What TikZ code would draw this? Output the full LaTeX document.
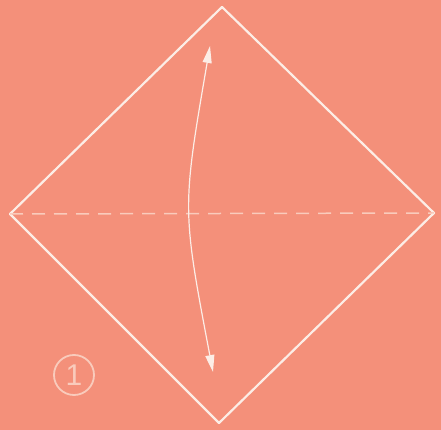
\documentclass[tikz,border=0pt]{standalone}
\usepackage{fontspec}
\setmainfont{Liberation Sans}
\usetikzlibrary{arrows.meta}
\definecolor{bg}{HTML}{F4907A}
\definecolor{ln}{HTML}{FCEDE6}
\definecolor{faint}{HTML}{F9CBBC}
\tikzset{
  edge/.style={draw=ln, line width=2.2pt, line join=round},
  fold/.style={draw=faint, line width=1.5pt, dash pattern=on 13pt off 9pt},
  turn/.style={draw=ln, line width=1.2pt, {Triangle[length=17pt,width=9pt]}-{Triangle[length=17pt,width=9pt]}},
  stepnum/.style={circle, draw=faint, line width=1.8pt, minimum size=40pt, inner sep=0pt, text=faint, font=\fontsize{30}{30}\selectfont}
}
\begin{document}
\begin{tikzpicture}[x=1pt,y=1pt]
\fill[bg] (0,0) rectangle (441,430);
\useasboundingbox (0,0) rectangle (441,430);
\coordinate (T) at (222,423);
\coordinate (L) at (10,216);
\coordinate (R) at (434,217);
\coordinate (B) at (219,7);
\path[edge] (T) -- (R) -- (B) -- (L) -- cycle;
\path[fold] (L) -- (R);
\coordinate (a1) at (210,384);
\coordinate (a2) at (213,58);
\path[turn] (a1) .. controls (182,221) .. (a2);
\node[stepnum] (n1) at (74,55) {1};
\end{tikzpicture}
\end{document}
